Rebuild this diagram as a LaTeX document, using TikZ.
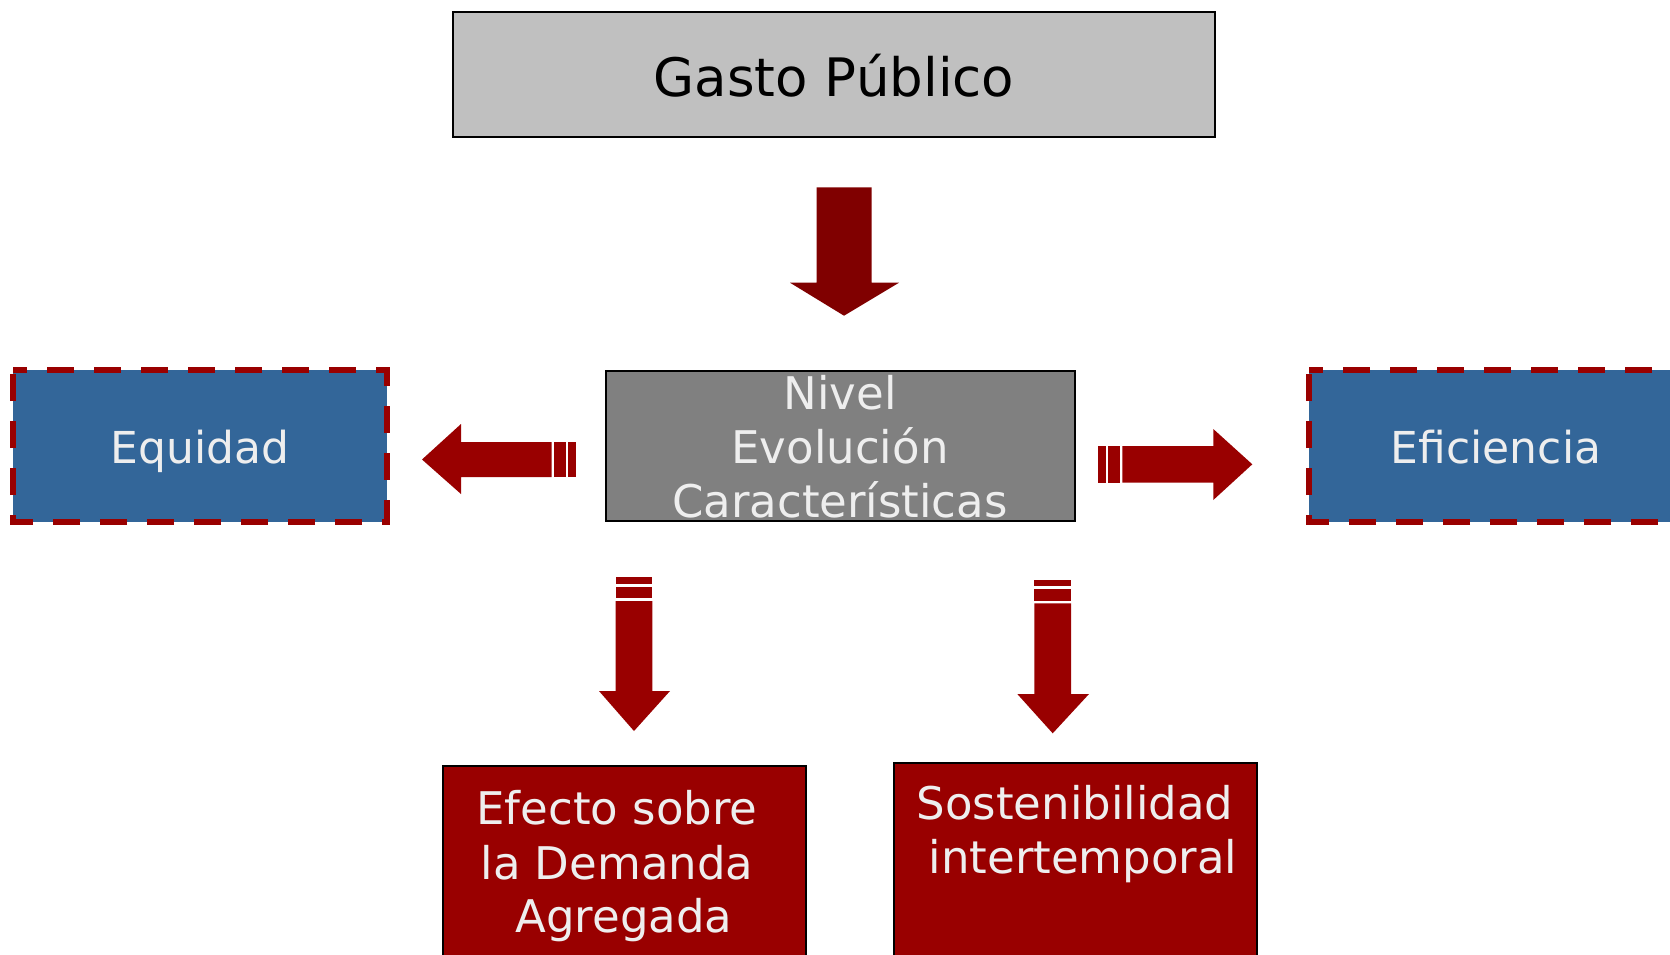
\documentclass[tikz,border=0pt]{standalone}
\usepackage{fontspec}
\setmainfont{DejaVu Sans}
\definecolor{topgray}{HTML}{C0C0C0}
\definecolor{midgray}{HTML}{808080}
\definecolor{boxblue}{HTML}{336699}
\definecolor{darkred}{HTML}{990000}
\definecolor{maroon}{HTML}{800000}
\definecolor{lighttxt}{HTML}{EEEEEE}
\begin{document}
\begin{tikzpicture}[x=1pt,y=-1pt,
  txt/.style={anchor=base,inner sep=0pt,lighttxt,font=\fontsize{45}{54}\selectfont},
  dashborder/.style={draw=darkred,line width=6pt,dash pattern=on 27pt off 20pt,dash phase=13pt}]
\useasboundingbox (0,0) rectangle (1670,954);
\clip (0,0) rectangle (1670,954);
% top box
\draw[fill=topgray,line width=2pt] (453,12) rectangle (1215,137);
\node[txt,black,font=\fontsize{53}{60}\selectfont] (gasto) at (834,96) {Gasto Público};
% top arrow
\fill[maroon] (816.7,187.3) -- (871.7,187.3) -- (871.7,282.7) -- (899,282.7) -- (844,315.7) -- (790,282.7) -- (816.7,282.7) -- cycle;
% center box
\draw[fill=midgray,line width=2pt] (606,371) rectangle (1075,521);
\node[txt] (n1) at (840,409) {Nivel};
\node[txt] (n2) at (840,463) {Evolución};
\node[txt] (n3) at (840,517) {Características};
% Equidad
\fill[boxblue] (13,370) rectangle (387,522);
\draw[dashborder] (13,370) -- (387,370) -- (387,522) -- (13,522) -- cycle;
\node[txt,font=\fontsize{44}{54}\selectfont] (eq) at (200,463) {Equidad};
% Eficiencia
\fill[boxblue] (1309,370) rectangle (1683,522);
\draw[dashborder] (1309,370) -- (1683,370) -- (1683,522) -- (1309,522) -- cycle;
\node[txt,font=\fontsize{44}{54}\selectfont] (ef) at (1496,463) {Eficiencia};
% left arrow
\fill[darkred] (422,459.5) -- (461,424) -- (461,442) -- (551.7,442) -- (551.7,477) -- (461,477) -- (461,494) -- cycle;
\fill[darkred] (554.3,442) rectangle (565.7,477);
\fill[darkred] (568.3,442) rectangle (575.7,477);
% right arrow
\fill[darkred] (1252.3,464.3) -- (1213.3,429) -- (1213.3,446) -- (1122.3,446) -- (1122.3,482.7) -- (1213.3,482.7) -- (1213.3,500) -- cycle;
\fill[darkred] (1098.3,446) rectangle (1105.7,482.7);
\fill[darkred] (1108.3,446) rectangle (1119.7,482.7);
% down left arrow
\fill[darkred] (615.7,601) -- (652.3,601) -- (652.3,691) -- (670,691) -- (634,731) -- (599,691) -- (615.7,691) -- cycle;
\fill[darkred] (615.7,576.7) rectangle (652.3,584);
\fill[darkred] (615.7,586.7) rectangle (652.3,598.3);
% down right arrow
\fill[darkred] (1034.3,603.3) -- (1071,603.3) -- (1071,694) -- (1089,694) -- (1052.7,733.3) -- (1017.3,694) -- (1034.3,694) -- cycle;
\fill[darkred] (1034.3,580) rectangle (1071,586);
\fill[darkred] (1034.3,589.3) rectangle (1071,600.7);
% bottom boxes
\draw[fill=darkred,line width=1.5pt] (443,766) rectangle (806,970);
\node[txt] (d1) at (617,824) {Efecto sobre};
\node[txt] (d2) at (617,879) {la Demanda};
\node[txt] (d3) at (624,932) {Agregada};
\draw[fill=darkred,line width=1.5pt] (894,763) rectangle (1257,970);
\node[txt] (s1) at (1075,819) {Sostenibilidad};
\node[txt] (s2) at (1083,873) {intertemporal};
\end{tikzpicture}
\end{document}
